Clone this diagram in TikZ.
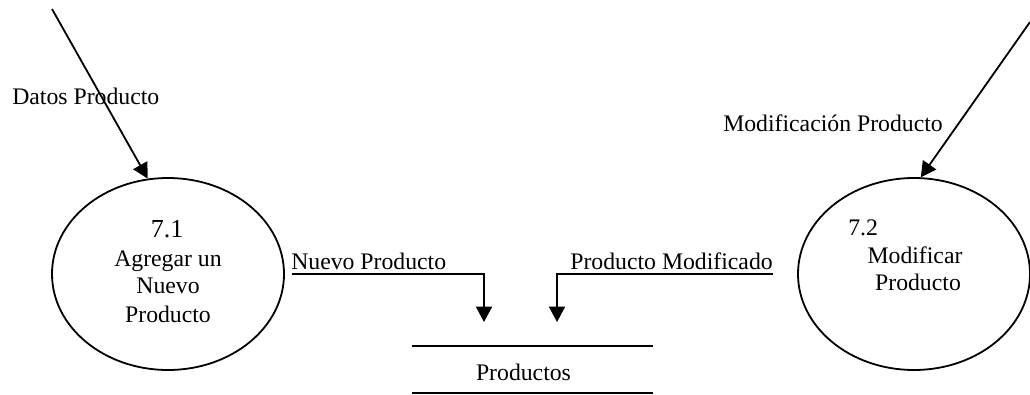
\documentclass[tikz,border=0pt]{standalone}
\usepackage{fontspec}
\setmainfont{Liberation Serif}
\usetikzlibrary{arrows.meta,shapes.geometric}
\tikzset{
  proc/.style={draw, ellipse, line width=1.35pt, inner sep=0pt, minimum width=174pt, minimum height=144pt},
  txt/.style={inner sep=0pt, font=\fontsize{17.8pt}{21pt}\selectfont},
  bigtxt/.style={inner sep=0pt, font=\fontsize{19.5pt}{21pt}\selectfont},
  flow/.style={line width=1.35pt, -{Triangle[length=11.5pt,width=12pt]}},
  storeline/.style={line width=1.4pt},
  storebox/.style={inner sep=0pt, minimum width=180.75pt, minimum height=35.25pt}
}
\begin{document}
\begin{tikzpicture}[x=0.75pt,y=-0.75pt]
\useasboundingbox (0,0) rectangle (1030,395);
% processes
\node[proc] (p71) at (168,274) {};
\node[proc] (p72) at (914,274) {};
% process texts
\node[bigtxt, anchor=base] (p71num) at (167,238) {7.1};
\node[txt, anchor=base] (p71a) at (168,266) {Agregar un};
\node[txt, anchor=base] (p71b) at (168,293) {Nuevo};
\node[txt, anchor=base] (p71c) at (168,322) {Producto};
\node[txt, anchor=base west] (p72num) at (848,235) {7.2};
\node[txt, anchor=base] (p72a) at (915,263) {Modificar};
\node[txt, anchor=base] (p72b) at (918,290) {Producto};
% store
\node[storebox] (store) at (532.5,369.5) {};
\draw[storeline] (store.north west) -- (store.north east);
\draw[storeline] (store.south west) -- (store.south east);
\node[txt, anchor=base] (storelbl) at (523.5,380) {Productos};
% external inputs
\coordinate (in1) at (52,9);
\coordinate (in2) at (1030,22);
\draw[flow] (in1) -- (p71.102);
\draw[flow] (in2) -- (p72.86);
\node[txt, anchor=base west] (l1) at (12,105) {Datos Producto};
\node[txt, anchor=base west] (l2) at (723,132) {Modificación Producto};
% flows to store
\coordinate (s1) at (292,274);
\coordinate (e1) at (484,322);
\coordinate (s2) at (773,274);
\coordinate (e2) at (557,322);
\draw[flow] (s1) -- (s1 -| e1) -- (e1);
\draw[flow] (s2) -- (s2 -| e2) -- (e2);
\node[txt, anchor=base west] (l3) at (291,269) {Nuevo Producto};
\node[txt, anchor=base east] (l4) at (773,269) {Producto Modificado};
\end{tikzpicture}
\end{document}
